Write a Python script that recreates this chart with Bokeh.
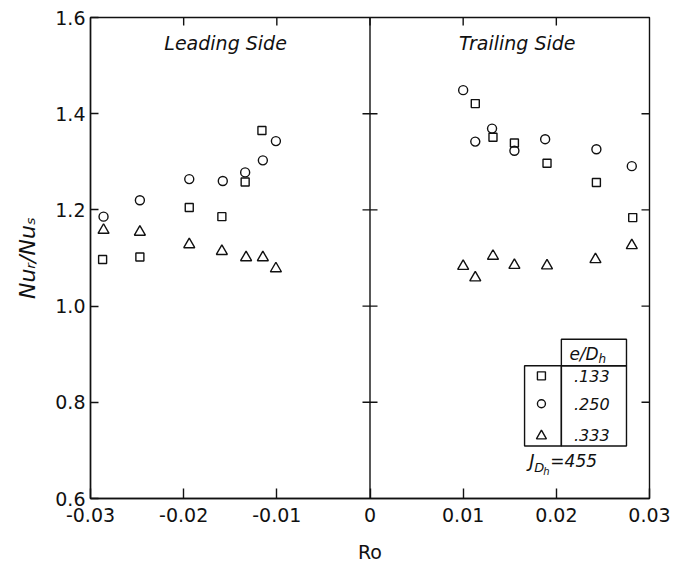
from bokeh.plotting import figure
from bokeh.models import Range1d, FixedTicker, Span, Label, BoxAnnotation
from bokeh.embed import file_html
from bokeh.resources import INLINE

# ---------------- data ----------------
x_ticks = [-0.03, -0.02, -0.01, 0, 0.01, 0.02, 0.03]
x_tick_labels = ["-0.03", "-0.02", "-0.01", "0", "0.01", "0.02", "0.03"]
y_ticks = [0.6, 0.8, 1.0, 1.2, 1.4, 1.6]
y_tick_labels = ["0.6", "0.8", "1.0", "1.2", "1.4", "1.6"]

# e/Dh = .133 (squares)
sq_ro = [-0.0287, -0.0247, -0.0194, -0.0159, -0.0134, -0.0116,
         0.0113, 0.0132, 0.0155, 0.0190, 0.0243, 0.0282]
sq_nu = [1.097, 1.102, 1.205, 1.186, 1.258, 1.365,
         1.421, 1.351, 1.339, 1.297, 1.257, 1.184]
# e/Dh = .250 (circles)
ci_ro = [-0.0286, -0.0247, -0.0194, -0.0158, -0.0134, -0.0115, -0.0101,
         0.0100, 0.0113, 0.0131, 0.0155, 0.0188, 0.0243, 0.0281]
ci_nu = [1.186, 1.220, 1.264, 1.260, 1.278, 1.303, 1.343,
         1.449, 1.342, 1.369, 1.323, 1.347, 1.326, 1.291]
# e/Dh = .333 (triangles)
tr_ro = [-0.0286, -0.0247, -0.0194, -0.0159, -0.0133, -0.0115, -0.0101,
         0.0100, 0.0113, 0.0132, 0.0155, 0.0190, 0.0242, 0.0281]
tr_nu = [1.158, 1.154, 1.128, 1.114, 1.101, 1.101, 1.078,
         1.083, 1.059, 1.104, 1.085, 1.084, 1.097, 1.126]

legend_values = [".133", ".250", ".333"]
legend_markers = ["square", "circle", "triangle"]
panel_titles = ["Leading Side", "Trailing Side"]
jdh_value = "455"

# ---------------- styling ----------------
FONT = "DejaVu Sans"
INK = "#111111"
LW = 1.4

p = figure(width=685, height=565, output_backend="svg", toolbar_location=None,
           x_range=Range1d(-0.03, 0.03), y_range=Range1d(0.6, 1.6),
           min_border_left=90, min_border_right=36, min_border_top=17,
           min_border_bottom=65)
p.background_fill_color = "white"
p.border_fill_color = "white"
p.outline_line_color = INK
p.outline_line_width = LW
p.xgrid.visible = False
p.ygrid.visible = False


def style_axis(ax, ticks, labels, tick_in):
    ax.ticker = FixedTicker(ticks=ticks)
    ax.major_label_overrides = {t: l for t, l in zip(ticks, labels)}
    ax.major_tick_in = tick_in
    ax.major_tick_out = 0
    ax.minor_tick_line_color = None
    ax.axis_line_color = INK
    ax.axis_line_width = LW
    ax.major_tick_line_color = INK
    ax.major_tick_line_width = LW
    ax.major_label_text_font = FONT
    ax.major_label_text_color = INK
    ax.major_label_text_font_size = "19px"


style_axis(p.xaxis[0], x_ticks, x_tick_labels, 10)
p.xaxis[0].major_label_standoff = 9
p.xaxis[0].axis_label = "Ro"
p.xaxis[0].axis_label_text_font = FONT
p.xaxis[0].axis_label_text_font_style = "normal"
p.xaxis[0].axis_label_text_font_size = "19px"
p.xaxis[0].axis_label_text_color = INK
p.xaxis[0].axis_label_standoff = 16

style_axis(p.yaxis[0], y_ticks, y_tick_labels, 8)
p.yaxis[0].major_label_standoff = 5
p.yaxis[0].axis_label = "Nu\u1d63/Nu\u209b"
p.yaxis[0].axis_label_text_font = FONT
p.yaxis[0].axis_label_text_font_style = "italic"
p.yaxis[0].axis_label_text_font_size = "22px"
p.yaxis[0].axis_label_text_color = INK
p.yaxis[0].axis_label_standoff = 12

# inward ticks on the top and right frame edges (8 px long)
tick_dy = 8 / 483 * 1.0
tick_dx = 8 / 559 * 0.06
top_x = x_ticks[1:-1]
p.segment(x0=top_x, y0=[1.6] * len(top_x), x1=top_x, y1=[1.6 - tick_dy] * len(top_x),
          line_color=INK, line_width=LW)
right_y = y_ticks[1:-1]
p.segment(x0=[0.03] * len(right_y), y0=right_y, x1=[0.03 - tick_dx] * len(right_y),
          y1=right_y, line_color=INK, line_width=LW)

# centre dividing line (Ro = 0) with crossing ticks
p.add_layout(Span(location=0, dimension="height", line_color=INK, line_width=LW))
p.scatter(x=[0] * len(right_y), y=right_y, marker="dash", size=15,
          line_color=INK, line_width=LW)

# ---------------- data markers ----------------
p.scatter(sq_ro, sq_nu, marker="square", size=8, fill_color=None,
          line_color=INK, line_width=LW)
p.scatter(ci_ro, ci_nu, marker="circle", size=9, fill_color=None,
          line_color=INK, line_width=LW)
p.scatter(tr_ro, tr_nu, marker="triangle", size=11, fill_color=None,
          line_color=INK, line_width=LW)

# ---------------- panel titles ----------------
for tx, title in zip([-0.0155, 0.0158], panel_titles):
    p.add_layout(Label(x=tx, y=1.548, text=title, text_align="center",
                       text_baseline="alphabetic", text_font=FONT,
                       text_font_style="italic", text_font_size="19px",
                       text_color=INK))

# ---------------- legend table ----------------
box_kw = dict(fill_alpha=0, line_color=INK, line_width=LW, line_alpha=1)
p.add_layout(BoxAnnotation(left=0.02054, right=0.02753, bottom=0.876, top=0.931, **box_kw))
p.add_layout(BoxAnnotation(left=0.01659, right=0.02054, bottom=0.709, top=0.876, **box_kw))
p.add_layout(BoxAnnotation(left=0.02054, right=0.02753, bottom=0.709, top=0.876, **box_kw))

p.add_layout(Label(x=0.0214, y=0.901, text="e/D", text_font=FONT,
                   text_font_style="italic", text_font_size="17px",
                   text_baseline="alphabetic", text_color=INK))
p.add_layout(Label(x=0.0214, y=0.901, x_offset=29, y_offset=-5, text="h",
                   text_font=FONT, text_font_style="italic",
                   text_font_size="12px", text_baseline="alphabetic",
                   text_color=INK))

row_y = [0.855, 0.797, 0.730]
row_base = [0.854, 0.796, 0.732]
for mk, val, ym, yb in zip(legend_markers, legend_values, row_y, row_base):
    p.scatter([0.0184], [ym], marker=mk, size=8 if mk != "triangle" else 10,
              fill_color=None, line_color=INK, line_width=LW)
    p.add_layout(Label(x=0.0219, y=yb, text=val, text_font=FONT,
                       text_font_style="italic", text_font_size="16px",
                       text_baseline="alphabetic", text_color=INK))

# J_Dh = 455
jx, jy = 0.0171, 0.678
for txt, dx, dy, fs in [("J", 0, 0, "18px"), ("D", 5, -7, "13px"),
                        ("h", 14, -11, "10px"), ("=" + jdh_value, 21, 0, "17px")]:
    p.add_layout(Label(x=jx, y=jy, x_offset=dx, y_offset=dy, text=txt,
                       text_font=FONT, text_font_style="italic",
                       text_font_size=fs, text_baseline="alphabetic",
                       text_color=INK))

open("out.html", "w").write(file_html(p, INLINE))
